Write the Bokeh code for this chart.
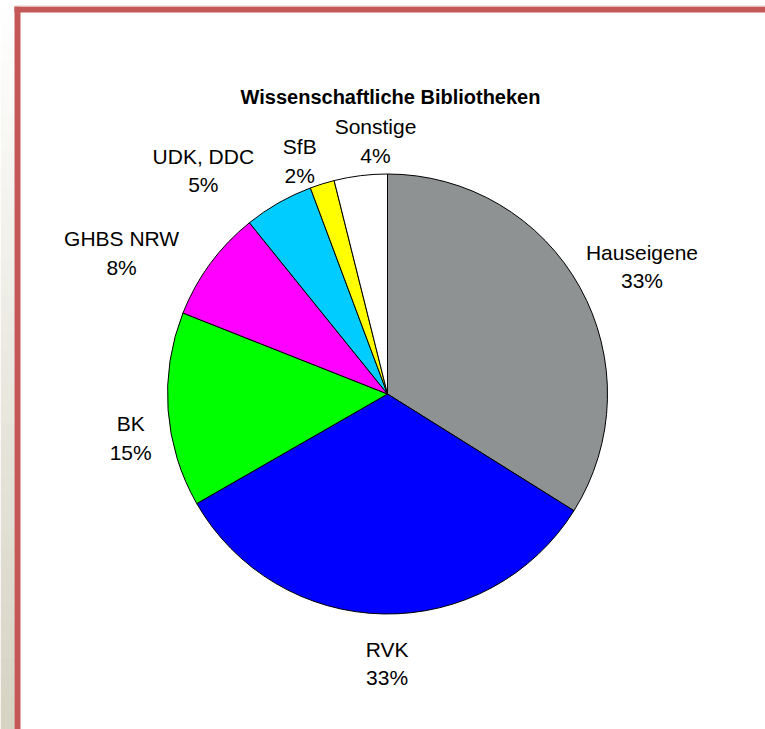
import math
from bokeh.plotting import figure
from bokeh.models import Range1d, ColumnDataSource
from bokeh.core.properties import value
from bokeh.embed import file_html
from bokeh.resources import INLINE

# ---------------- data ----------------
title_text = "Wissenschaftliche Bibliotheken"
categories = ["Hauseigene", "RVK", "BK", "GHBS NRW", "UDK, DDC", "SfB", "Sonstige"]
shares = [33.9, 32.8, 14.3, 8.2, 5.1, 1.8, 3.9]
share_labels = ["33%", "33%", "15%", "8%", "5%", "2%", "4%"]

# ---------------- styles / layout ----------------
colors = ["#8e9292", "#0000ff", "#00ff00", "#ff00ff", "#00ccff", "#ffff00", "#ffffff"]
W, H = 765, 729
PAGE_H = 729                      # data y = PAGE_H - screen y
CX, CY = 387, PAGE_H - 393.5      # pie centre
R = 220                           # pie radius
FONT_PX = 21
label_gap = [16.6, 28, 19.5, 32.3, 37.4, 8.2, 11.4]
label_turn = [-0.6, -1.0, -5.5, -5.4, -7.0, -3.7, 4.5]
BORDER = "#c45858"

# Arial / Liberation Sans advance widths (1/1000 em) for label width estimation
ADV = {"H": 722, "a": 556, "u": 556, "s": 500, "e": 556, "i": 222, "g": 556, "n": 556,
       "R": 722, "V": 667, "K": 667, "B": 667, "G": 778, "S": 667, "N": 722, "W": 944,
       "U": 722, "D": 722, ",": 278, "C": 722, "f": 278, "t": 278, "o": 556, "%": 889,
       " ": 278}


def text_width(s):
    return sum(ADV.get(ch, 556) for ch in s) * FONT_PX / 1000.0


total = sum(shares)
starts, ends, mids = [], [], []
acc = 0.0
for v in shares:
    f0 = acc / total
    acc += v
    f1 = acc / total
    starts.append(math.pi / 2 - 2 * math.pi * f1)
    ends.append(math.pi / 2 - 2 * math.pi * f0)
    mids.append((f0 + f1) / 2)

wedges = ColumnDataSource(dict(x=[CX] * len(shares), y=[CY] * len(shares),
                               start=starts, end=ends, color=colors, name=categories))

lx, ly, ltxt = [], [], []
for cat, pct, m, gap, turn in zip(categories, share_labels, mids, label_gap, label_turn):
    th = math.radians(360 * m + turn)
    ux, uy = math.sin(th), math.cos(th)
    w = max(text_width(cat), text_width(pct))
    lx.append(CX + ux * (R + gap) + ux * w / 2)
    ly.append(CY + uy * (R + gap) + uy * 21.5)
    ltxt.append(cat + "\n" + pct)
labels = ColumnDataSource(dict(x=lx, y=ly, text=ltxt))

p = figure(width=W, height=H, output_backend="svg", toolbar_location=None,
           x_range=Range1d(0, W), y_range=Range1d(PAGE_H - H, PAGE_H),
           x_axis_location=None, y_axis_location=None, min_border=0,
           outline_line_color=None, background_fill_color="white",
           border_fill_color="white")
p.xgrid.visible = False
p.ygrid.visible = False

# page decoration: gradient strip at the left and red frame
n_band = 40
top_c = (255, 255, 255)
bot_c = (214, 210, 194)
y0 = 6
for k in range(n_band):
    t = (k + 0.5) / n_band
    c = tuple(int(round(top_c[j] + (bot_c[j] - top_c[j]) * t)) for j in range(3))
    y_top = PAGE_H - (y0 + (PAGE_H - y0) * k / n_band)
    y_bot = PAGE_H - (y0 + (PAGE_H - y0) * (k + 1) / n_band)
    p.quad(left=0, right=14, top=y_top, bottom=y_bot - 0.5,
           fill_color="#%02x%02x%02x" % c, line_color=None)
p.quad(left=14, right=20, top=PAGE_H - 6, bottom=0, fill_color=BORDER, line_color=None)
p.quad(left=14, right=W + 10, top=PAGE_H - 6, bottom=PAGE_H - 12, fill_color=BORDER, line_color=None)
p.quad(left=14, right=W + 10, top=PAGE_H - 5, bottom=PAGE_H - 6, fill_color="#e8c8c8", line_color=None)

# pie
p.wedge(x="x", y="y", radius=R, start_angle="start", end_angle="end",
        direction="anticlock", fill_color="color", line_color="black",
        line_width=1, source=wedges)

# labels
p.text(x="x", y="y", text="text", source=labels, text_align="center",
       text_baseline="middle", text_font=value("Liberation Sans"),
       text_font_size="%dpx" % FONT_PX, text_line_height=1.25, text_color="black")

# title
p.text(x=[390], y=[PAGE_H - 96], text=[title_text], text_align="center",
       text_baseline="middle", text_font=value("Liberation Sans"),
       text_font_size="20px", text_font_style="bold", text_color="black")

open("out.html", "w").write(file_html(p, INLINE))
